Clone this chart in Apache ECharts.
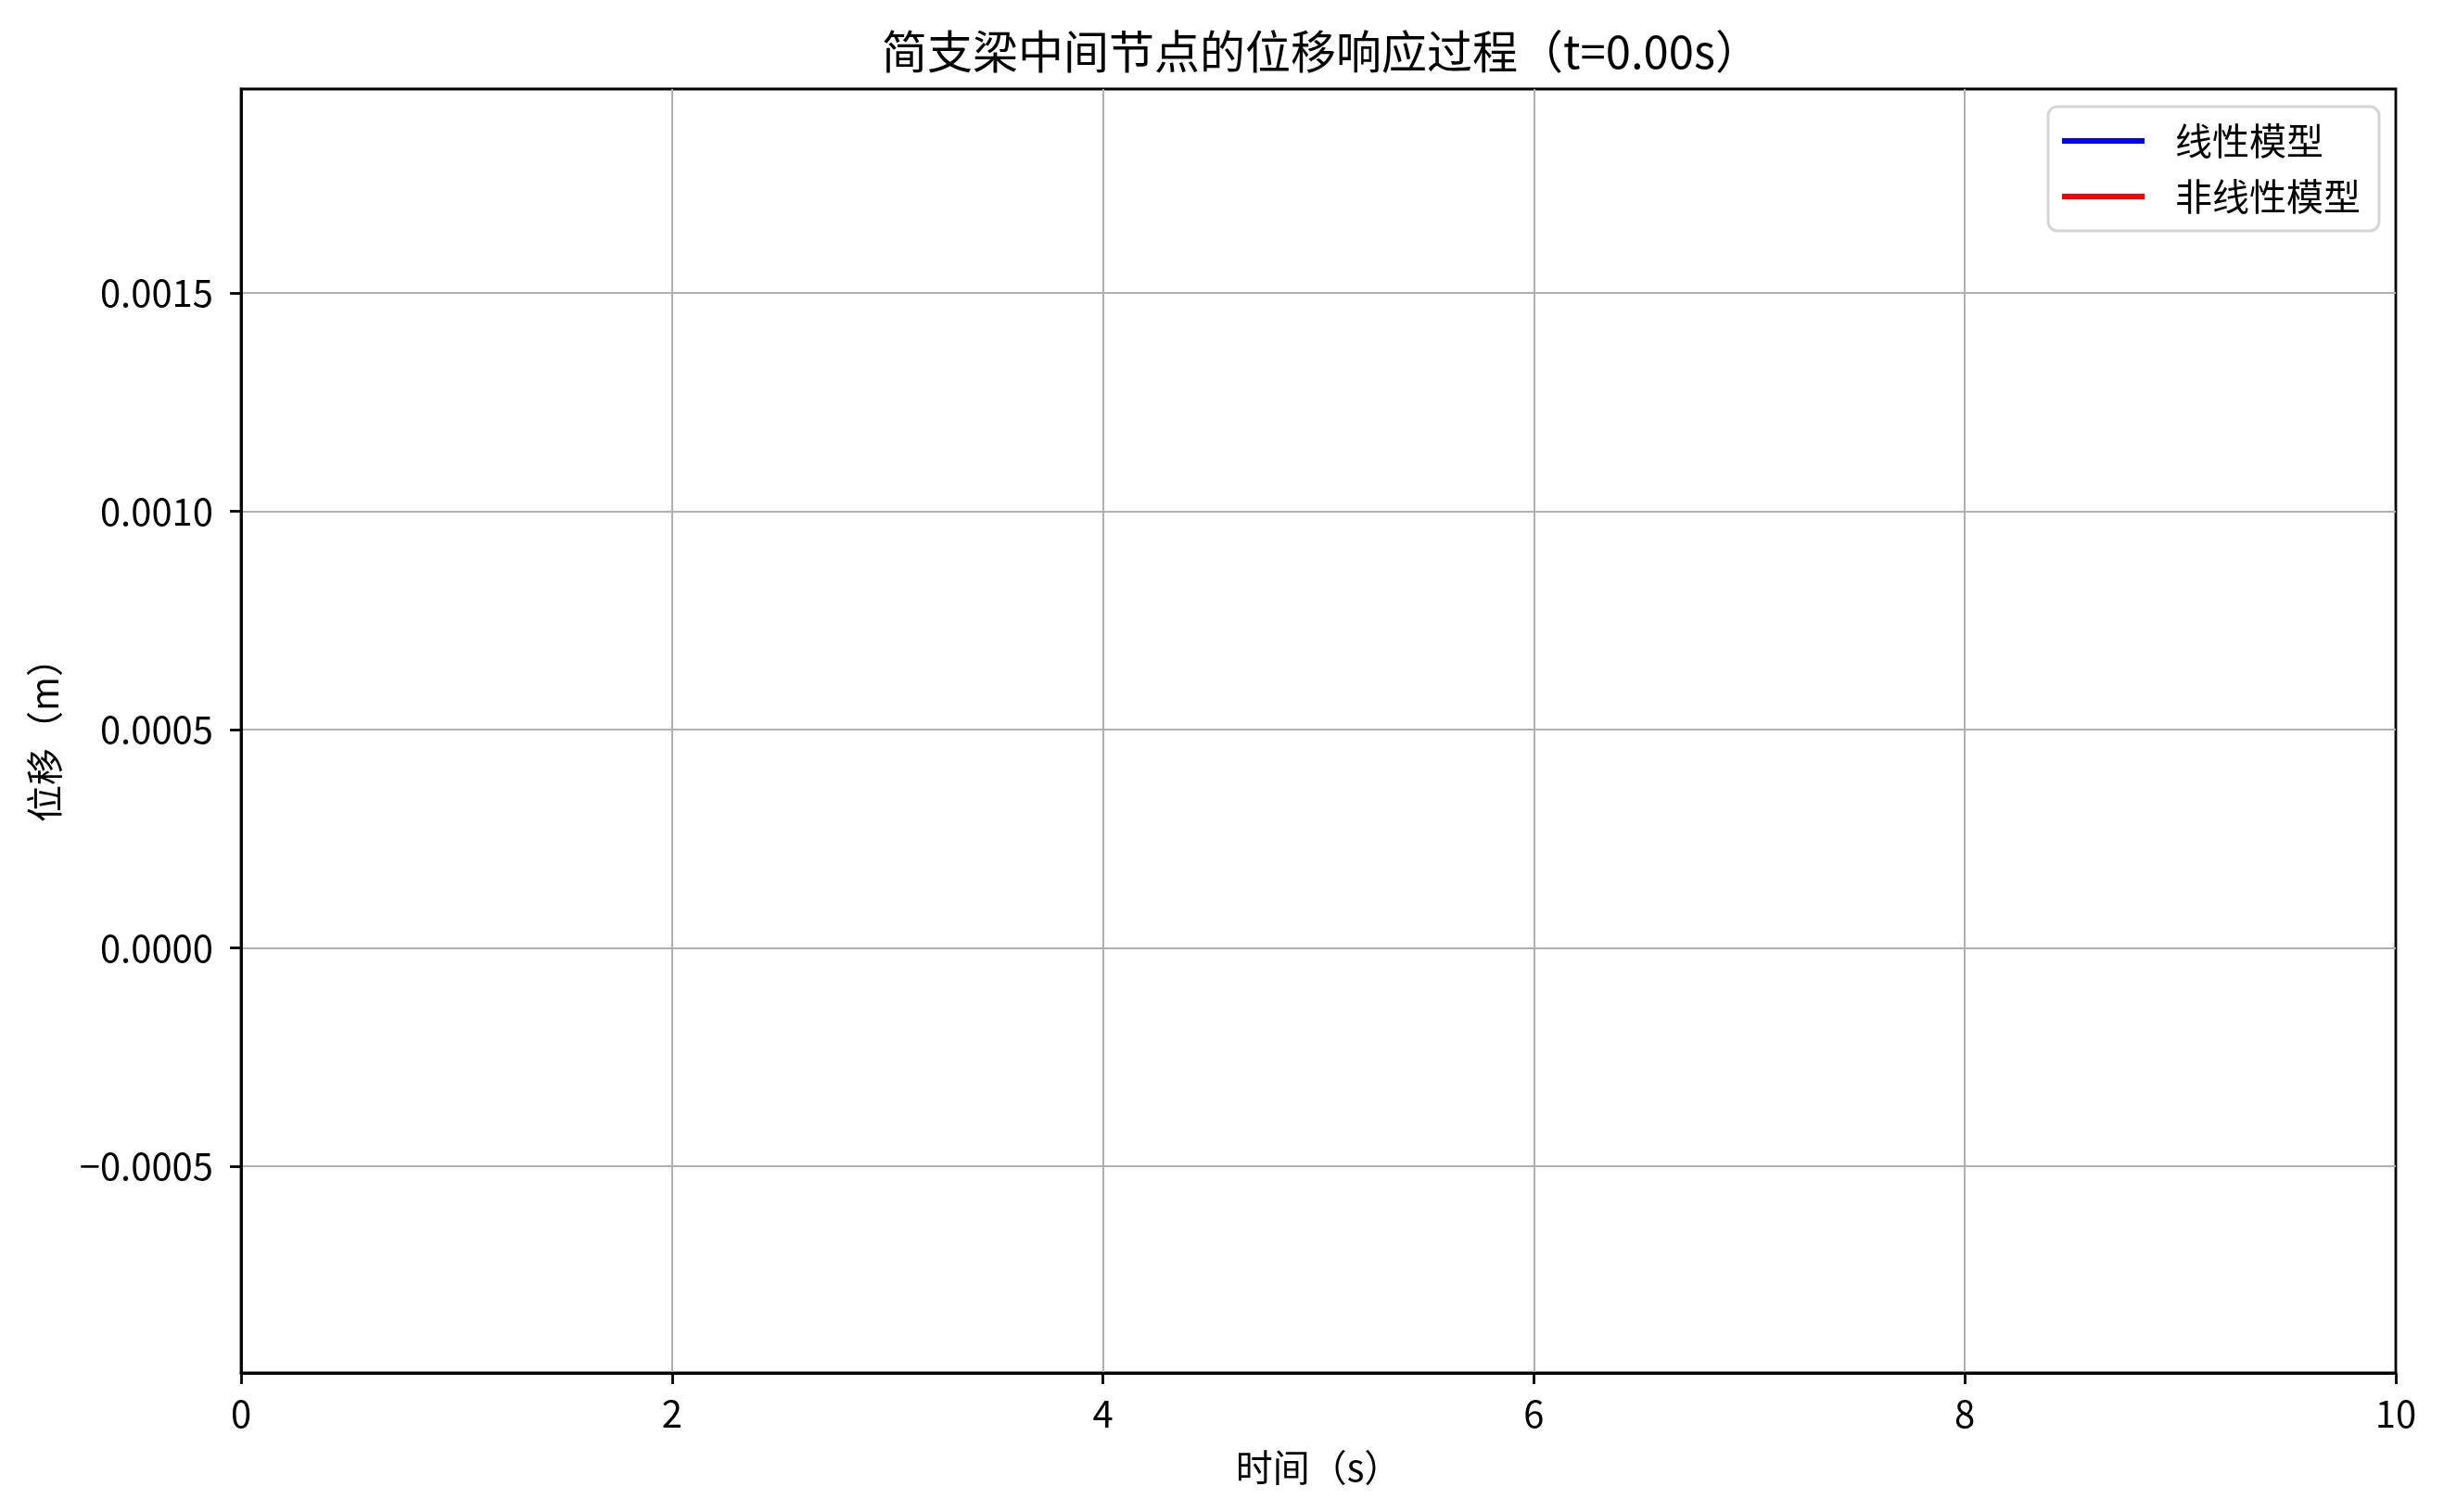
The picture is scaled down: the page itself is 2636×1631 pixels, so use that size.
<!DOCTYPE html>
<html>
<head>
<meta charset="utf-8">
<script src="https://cdn.jsdelivr.net/npm/echarts@6/dist/echarts.min.js"></script>
<style>
html,body{margin:0;padding:0;background:#fff;}
#c{width:2636px;height:1631px;}
</style>
</head>
<body>
<div id="c"></div>
<script>
// Data (animation frame at t = 0.00 s: no samples drawn yet)
const titleText = '简支梁中间节点的位移响应过程（t=0.00s）';
const timeValues = [];
const linearDisp = [];
const nonlinearDisp = [];
const xTicks = [0, 2, 4, 6, 8, 10];
const yTicks = [-0.0005, 0.0000, 0.0005, 0.0010, 0.0015];
const xRange = [0, 10];
const yRange = [-0.000974, 0.001967];

const FONT = '"Noto Sans CJK SC", "Noto Sans", sans-serif';
const pairs = (xs, ys) => xs.map((x, i) => [x, ys[i]]);
const fmtY = v => v.toFixed(4).replace('-', '\u2212');

const chart = echarts.init(document.getElementById('c'), null, {renderer: 'canvas'});
chart.setOption({
  backgroundColor: '#ffffff',
  animation: false,
  textStyle: {fontFamily: FONT},
  title: {
    text: titleText,
    left: 1420,
    textAlign: 'center',
    top: 26,
    textStyle: {fontFamily: FONT, fontSize: 49, fontWeight: 'normal', color: '#000'}
  },
  grid: {
    left: 260, right: 52, top: 96, bottom: 150,
    show: true, borderColor: '#000', borderWidth: 2.8, backgroundColor: 'transparent'
  },
  legend: {
    orient: 'vertical',
    right: 70, top: 115,
    padding: [17, 20, 17, 15],
    icon: 'rect',
    itemWidth: 89, itemHeight: 6, itemGap: 20,
    backgroundColor: '#fff',
    borderColor: '#d5d5d5', borderWidth: 3, borderRadius: 10,
    textStyle: {fontFamily: FONT, fontSize: 40, color: '#000', lineHeight: 40, padding: [0, 0, 0, 28]},
    data: [
      {name: '线性模型', icon: 'rect', itemStyle: {color: '#0000ff'}},
      {name: '非线性模型', icon: 'rect', itemStyle: {color: '#ff0000'}}
    ]
  },
  xAxis: {
    type: 'value',
    min: xRange[0], max: xRange[1], interval: 2,
    name: '时间（s）',
    nameLocation: 'middle', nameGap: 82,
    nameTextStyle: {fontFamily: FONT, fontSize: 40, color: '#000'},
    axisLine: {show: true, onZero: false, lineStyle: {color: '#000', width: 2.8}},
    axisTick: {show: true, inside: false, length: 12, lineStyle: {color: '#000', width: 2.8}},
    axisLabel: {fontFamily: FONT, fontSize: 40, color: '#000', margin: 24},
    splitLine: {show: true, showMinLine: false, showMaxLine: false, lineStyle: {color: '#b0b0b0', width: 2}}
  },
  yAxis: {
    type: 'value',
    min: yRange[0], max: yRange[1],
    name: '位移（m）',
    nameLocation: 'middle', nameGap: 192, nameRotate: 90,
    nameTextStyle: {fontFamily: FONT, fontSize: 40, color: '#000'},
    axisLine: {show: true, onZero: false, lineStyle: {color: '#000', width: 2.8}},
    axisTick: {show: true, inside: false, length: 12, lineStyle: {color: '#000', width: 2.8}, customValues: yTicks},
    axisLabel: {fontFamily: FONT, fontSize: 40, color: '#000', margin: 30, customValues: yTicks, formatter: fmtY},
    splitLine: {show: true, lineStyle: {color: '#b0b0b0', width: 2}}
  },
  series: [
    {name: '线性模型', type: 'line', data: pairs(timeValues, linearDisp), symbol: 'none', lineStyle: {color: '#0000ff', width: 6}, itemStyle: {color: '#0000ff'}},
    {name: '非线性模型', type: 'line', data: pairs(timeValues, nonlinearDisp), symbol: 'none', lineStyle: {color: '#ff0000', width: 6}, itemStyle: {color: '#ff0000'}}
  ]
});
</script>
</body>
</html>
